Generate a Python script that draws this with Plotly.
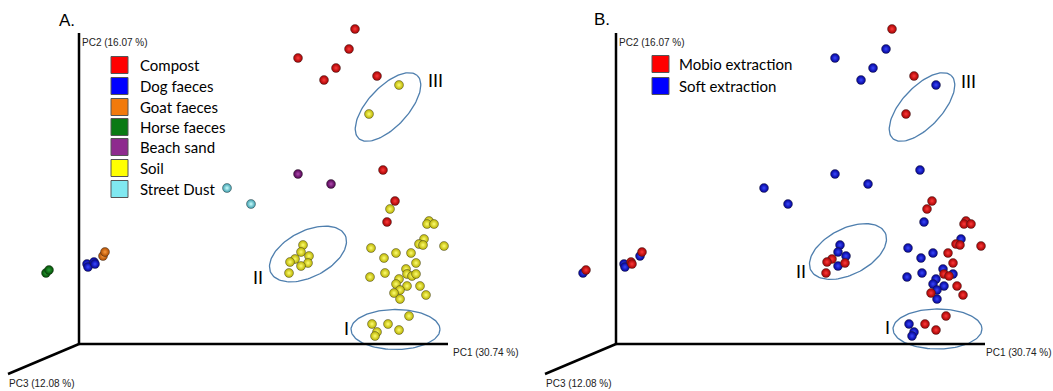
import numpy as np
import plotly.graph_objects as go

# ---------------- data (projected PCoA coordinates, arbitrary units) ----------------
groups = ["Compost", "Dog faeces", "Goat faeces", "Horse faeces", "Beach sand", "Soil", "Street Dust"]
methods = ["Mobio extraction", "Soft extraction"]

compost_pc1 = [276, 270, 219, 257, 245, 298, 304, 316, 308]
compost_pc2 = [315, 295, 286, 276, 264, 268, 174, 143, 122]
compost_ext = ["M", "S", "S", "S", "S", "M", "S", "M", "S"]

dog_pc1 = [8, 9, 15, 16]
dog_pc2 = [80, 77, 82, 80]
dog_ext = ["S", "S", "M", "M"]

goat_pc1 = [24, 26]
goat_pc2 = [88, 92]
goat_ext = ["S", "M"]

horse_pc1 = [-33, -30]
horse_pc2 = [71, 74]
horse_ext = ["S", "M"]

sand_pc1 = [219, 252]
sand_pc2 = [170, 160]
sand_ext = ["S", "S"]

dust_pc1 = [148, 172]
dust_pc2 = [156, 140]
dust_ext = ["S", "S"]

soil_pc1 = [320, 290,
            224, 222, 230, 216, 211, 229, 222, 210,
            311, 350, 348, 355, 345, 340, 344, 365, 292, 317, 332, 305, 337, 327,
            306, 291, 328, 333, 337, 320, 317, 328, 341, 321, 315, 347, 321, 330,
            293, 309, 320, 298, 296]
soil_pc2 = [259, 230,
            99, 92, 88, 85, 82, 81, 78, 71,
            135, 123, 120, 120, 105, 100, 99, 98, 96, 91, 91, 86, 81, 75,
            71, 67, 70, 68, 70, 65, 60, 58, 58, 54, 51, 49, 45, 28,
            20, 20, 14, 12, 8]
soil_ext = ["S", "M",
            "S", "S", "S", "M", "M", "M", "S", "M",
            "M", "M", "M", "M", "S", "M", "M", "M", "S", "S", "M", "S", "M", "S",
            "S", "S", "M", "M", "S", "S", "S", "S", "M", "S", "M", "M", "S", "M",
            "S", "M", "M", "S", "S"]

group_data = {
    "Compost": (compost_pc1, compost_pc2, compost_ext),
    "Dog faeces": (dog_pc1, dog_pc2, dog_ext),
    "Goat faeces": (goat_pc1, goat_pc2, goat_ext),
    "Horse faeces": (horse_pc1, horse_pc2, horse_ext),
    "Beach sand": (sand_pc1, sand_pc2, sand_ext),
    "Soil": (soil_pc1, soil_pc2, soil_ext),
    "Street Dust": (dust_pc1, dust_pc2, dust_ext),
}

# cluster ellipses: centre x, centre y, semi-major, semi-minor, angle(deg)
ellipse_labels = ["III", "II", "I"]
ellA_cx = [309, 229, 316.5]
ellA_cy = [237, 90, 14.5]
ellB_cx = [306, 232, 321.5]
ellB_cy = [237, 92.5, 15]
ell_a = [43, 41.6, 44.5]
ell_b = [20, 23, 20]
ell_ang = [47, 27, 0]
labA_x = [356, 179, 267]
labA_y = [264, 67, 16]
labB_x = [352, 185, 271]
labB_y = [263, 73, 17]

axis_titles = ["PC1 (30.74 %)", "PC2 (16.07 %)", "PC3 (12.08 %)"]

# ---------------- styles ----------------
solid = {
    "Compost": "#ff0000", "Dog faeces": "#0000ff", "Goat faeces": "#f27a0c",
    "Horse faeces": "#0a7a14", "Beach sand": "#8e2a8e", "Soil": "#ffff00",
    "Street Dust": "#80e8f0",
    "M": "#ff0000", "S": "#0000ff",
}
ball = {  # (edge, centre)
    "Compost": ("#a00000", "#ff3a3a"), "Dog faeces": ("#000090", "#3a48ff"),
    "Goat faeces": ("#a84a00", "#ff9a3a"), "Horse faeces": ("#004a00", "#2aa03a"),
    "Beach sand": ("#4a004a", "#b048b0"), "Soil": ("#b8b000", "#ffff70"),
    "Street Dust": ("#3a9aaa", "#c8ffff"),
    "M": ("#a00000", "#ff3a3a"), "S": ("#000090", "#3a48ff"),
}

fig = go.Figure()

def add_balls(xs, ys, key, xa, ya):
    edge, centre = ball[key]
    fig.add_trace(go.Scatter(
        x=xs, y=ys, mode="markers", xaxis=xa, yaxis=ya, showlegend=False, hoverinfo="skip",
        marker=dict(size=9, color=edge, gradient=dict(type="radial", color=centre),
                    line=dict(width=0.5, color="rgba(40,40,40,0.8)"))))

# panel A: colour by sample type
for g in groups:
    xs, ys, _ = group_data[g]
    add_balls(xs, ys, g, "x", "y")

# panel B: colour by extraction method
for m in ["S", "M"]:
    xs, ys = [], []
    for g in groups:
        gx, gy, ge = group_data[g]
        for xv, yv, ev in zip(gx, gy, ge):
            if ev == m:
                xs.append(xv); ys.append(yv)
    add_balls(xs, ys, m, "x2", "y2")

# ellipses
t = np.linspace(0, 2 * np.pi, 120)
for cxs, cys, xa, ya in [(ellA_cx, ellA_cy, "x", "y"), (ellB_cx, ellB_cy, "x2", "y2")]:
    for cx, cy, a, b, ang in zip(cxs, cys, ell_a, ell_b, ell_ang):
        th = np.deg2rad(ang)
        ex = cx + a * np.cos(t) * np.cos(th) - b * np.sin(t) * np.sin(th)
        ey = cy + a * np.cos(t) * np.sin(th) + b * np.sin(t) * np.cos(th)
        fig.add_trace(go.Scatter(x=ex, y=ey, mode="lines", xaxis=xa, yaxis=ya,
                                 showlegend=False, hoverinfo="skip",
                                 line=dict(color="#4f7fae", width=1.3)))

shapes = []
annotations = []
for xr, yr, pc1_x in [("x", "y", 372), ("x2", "y2", 368)]:
    # axes of the 3D frame
    shapes.append(dict(type="line", xref=xr, yref=yr, x0=0, y0=0, x1=0, y1=311,
                       line=dict(color="black", width=2.5)))
    shapes.append(dict(type="line", xref=xr, yref=yr, x0=0, y0=0, x1=369, y1=0,
                       line=dict(color="black", width=2.5)))
    shapes.append(dict(type="line", xref=xr, yref=yr, x0=0, y0=0, x1=-71, y1=-30,
                       line=dict(color="black", width=2.5)))
    af = dict(family="Arial", size=10, color="#222222")
    annotations.append(dict(xref=xr, yref=yr, x=1, y=302, text=axis_titles[1], showarrow=False,
                            xanchor="left", yanchor="middle", font=af))
    annotations.append(dict(xref=xr, yref=yr, x=pc1_x, y=-8, text=axis_titles[0], showarrow=False,
                            xanchor="left", yanchor="middle", font=af))
    annotations.append(dict(xref=xr, yref=yr, x=-72, y=-39, text=axis_titles[2], showarrow=False,
                            xanchor="left", yanchor="middle", font=af))

# panel titles
annotations.append(dict(xref="x", yref="y", x=-22, y=324, text="A.", showarrow=False,
                        xanchor="left", yanchor="middle", font=dict(family="Arial", size=17, color="black")))
annotations.append(dict(xref="x2", yref="y2", x=-24, y=325, text="B.", showarrow=False,
                        xanchor="left", yanchor="middle", font=dict(family="Arial", size=17, color="black")))

# roman cluster labels
for labs_x, labs_y, xr, yr in [(labA_x, labA_y, "x", "y"), (labB_x, labB_y, "x2", "y2")]:
    for lab, lx, ly in zip(ellipse_labels, labs_x, labs_y):
        annotations.append(dict(xref=xr, yref=yr, x=lx, y=ly, text=lab, showarrow=False,
                                xanchor="center", yanchor="middle",
                                font=dict(family="Lato", size=18, color="black")))

# manual legends
legA_y = [279, 258, 237, 217, 197, 176, 155]
for g, ly in zip(groups, legA_y):
    shapes.append(dict(type="rect", xref="x", yref="y", x0=32, x1=49, y0=ly - 8.5, y1=ly + 8.5,
                       fillcolor=solid[g], line=dict(color="#555555", width=1)))
    annotations.append(dict(xref="x", yref="y", x=59, y=ly, text=g, showarrow=False,
                            xanchor="left", yanchor="middle",
                            font=dict(family="Lato", size=15, color="black")))
legB_y = [280, 258]
for m, key, ly in zip(methods, ["M", "S"], legB_y):
    shapes.append(dict(type="rect", xref="x2", yref="y2", x0=36, x1=53, y0=ly - 8.5, y1=ly + 8.5,
                       fillcolor=solid[key], line=dict(color="#555555", width=1)))
    annotations.append(dict(xref="x2", yref="y2", x=61, y=ly, text=m, showarrow=False,
                            xanchor="left", yanchor="middle",
                            font=dict(family="Lato", size=15, color="black")))

ax_common = dict(visible=False, showgrid=False, zeroline=False, fixedrange=True)
fig.update_layout(
    width=1053, height=391, margin=dict(l=0, r=0, t=0, b=0),
    paper_bgcolor="white", plot_bgcolor="white",
    xaxis=dict(domain=[0, 526 / 1053], range=[-79, 447], anchor="y", **ax_common),
    yaxis=dict(domain=[0, 1], range=[-47, 344], anchor="x", **ax_common),
    xaxis2=dict(domain=[526 / 1053, 1], range=[-90, 437], anchor="y2", **ax_common),
    yaxis2=dict(domain=[0, 1], range=[-47, 344], anchor="x2", **ax_common),
    shapes=shapes, annotations=annotations, showlegend=False,
)

fig.write_html("out.html", config={"displayModeBar": False},
               post_script="document.body.style.margin='0px';document.body.style.overflow='hidden';")
